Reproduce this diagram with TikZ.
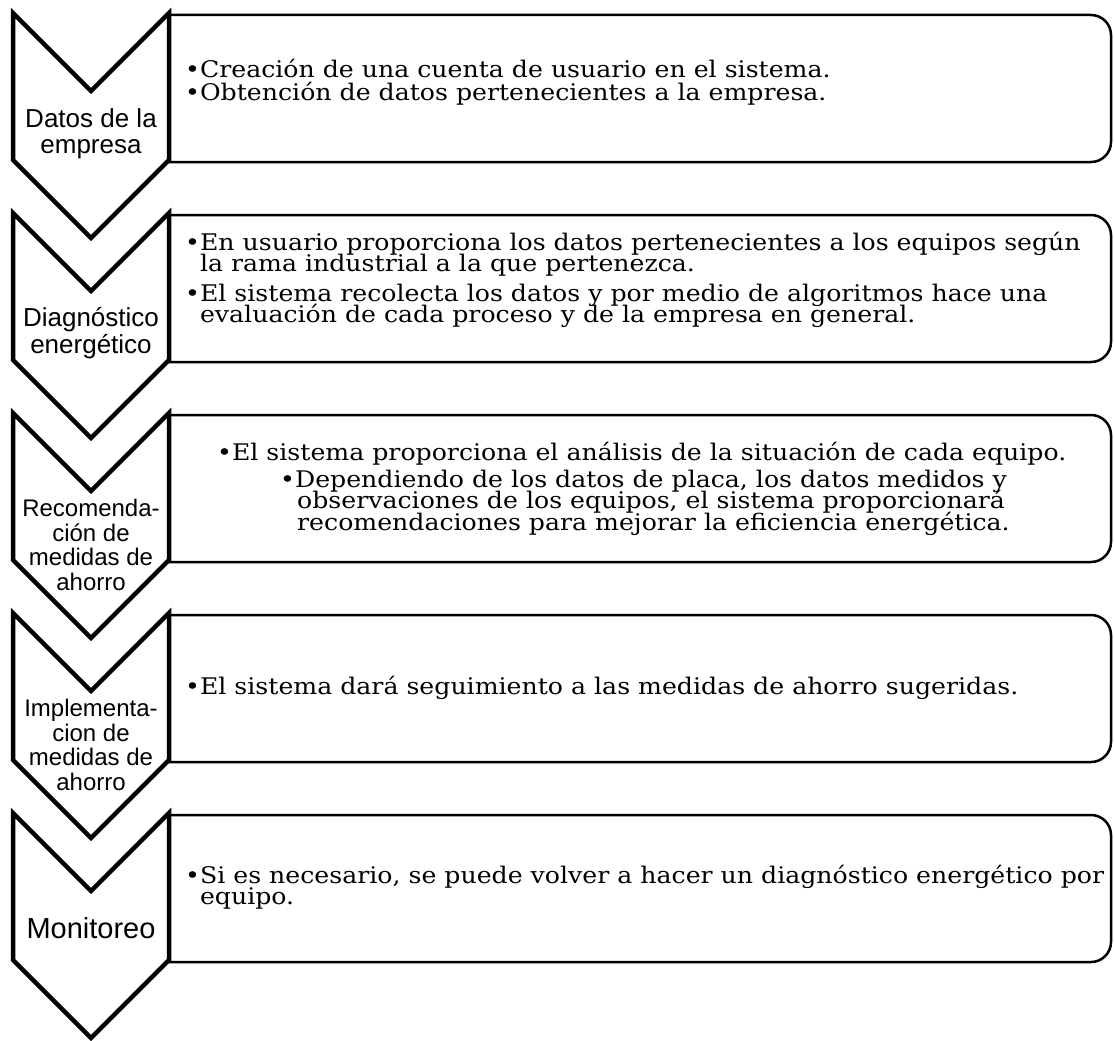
\documentclass[tikz,border=0pt]{standalone}
\usepackage{fontspec}
\setmainfont[FakeStretch=1.1]{DejaVu Serif}
\newfontfamily\labfont{Liberation Sans}
\newcommand{\bodyfont}{\fontsize{22.9}{21.5}\selectfont\setlength{\lineskiplimit}{-100pt}}
\tikzset{
  chev/.style={draw, line width=4.5pt, fill=white, line join=miter},
  panel/.style={draw, line width=2.5pt, fill=white},
  lab/.style={font=\labfont\fontsize{26}{26.5}\selectfont, align=center, inner sep=0pt},
  labsmall/.style={font=\labfont\fontsize{24}{24.5}\selectfont, align=center, inner sep=0pt},
  body/.style={font=\bodyfont, align=left, anchor=west, inner sep=0pt},
}
\newcommand{\cont}{\phantom{•}}
\begin{document}
\begin{tikzpicture}[x=1pt,y=-1pt]
\useasboundingbox (0,0) rectangle (1114,1041);
% panels
\foreach \i in {0,...,4}{
  \pgfmathsetmacro{\t}{15+200*\i}
  \pgfmathsetmacro{\b}{162+200*\i}
  \draw[panel] (169,\t) -- (1091,\t) arc[start angle=-90, end angle=0, radius=20]
     -- (1111,\b-20) arc[start angle=0, end angle=90, radius=20] -- (169,\b) -- cycle;
}
% chevrons
\foreach \i in {0,...,4}{
  \pgfmathsetmacro{\y}{13+200*\i}
  \draw[chev] (13,\y) -- (91,\y+78) -- (169,\y) -- (169,\y+147) -- (91,\y+225) -- (13,\y+147) -- cycle;
}
% labels
\node[lab] (l1) at (91,134) {Datos de la\\empresa};
\node[lab] (l2) at (91,333) {Diagnóstico\\energético};
\node[labsmall] (l3) at (91,545) {Recomenda-\\ción de\\medidas de\\ahorro};
\node[labsmall] (l4) at (91,745) {Implementa-\\cion de\\medidas de\\ahorro};
\node[lab, font=\labfont\fontsize{29}{32}\selectfont] (l5) at (91,928) {Monitoreo};
% texts
\node[body] (t1) at (185,82) {•Creación de una cuenta de usuario en el sistema.\\[1.5pt]•Obtención de datos pertenecientes a la empresa.};
\node[body] (t2) at (185,280) {•En usuario proporciona los datos pertenecientes a los equipos según\\\cont la rama industrial a la que pertenezca.\\[8pt]•El sistema recolecta los datos y por medio de algoritmos hace una\\\cont evaluación de cada proceso y de la empresa en general.};
\node[body] (t3) at (217,489) {•El sistema proporciona el análisis de la situación de cada equipo.\\[5pt]\hspace*{63pt}•Dependiendo de los datos de placa, los datos medidos y\\\hspace*{80pt}observaciones de los equipos, el sistema proporcionará\\\hspace*{80pt}recomendaciones para mejorar la eficiencia energética.};
\node[body] (t4) at (185,688) {•El sistema dará seguimiento a las medidas de ahorro sugeridas.};
\node[body] (t5) at (185,887) {•Si es necesario, se puede volver a hacer un diagnóstico energético por\\\cont equipo.};
\end{tikzpicture}
\end{document}
